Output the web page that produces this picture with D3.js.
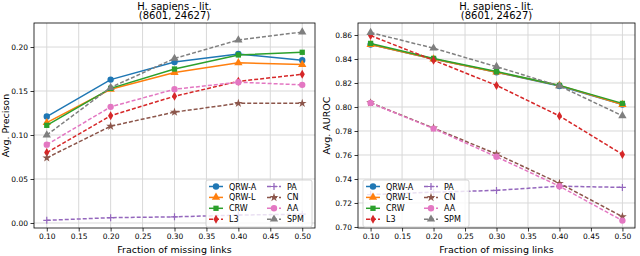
<!DOCTYPE html>
<html><head><meta charset="utf-8">
<script src="https://cdn.jsdelivr.net/npm/d3@7"></script>
<style>body{margin:0;background:#fff}svg{display:block}text{font-family:"DejaVu Sans",sans-serif;fill:#000}</style>
</head><body>
<svg id="c" width="640" height="256"></svg>
<script>
const xs = [0.1, 0.2, 0.3, 0.4, 0.5];
const xTicks = [0.10,0.15,0.20,0.25,0.30,0.35,0.40,0.45,0.50];
const methods = ["QRW-A","QRW-L","CRW","L3","PA","CN","AA","SPM"];
const colors = ["#1f77b4","#ff7f0e","#2ca02c","#d62728","#9467bd","#8c564b","#e377c2","#7f7f7f"];
const shapes = ["circle","triangle","square","diamond","plus","star","circle","triangle"];
const dashed = [false,false,false,true,true,true,true,true];

const precQRWA = [0.121,0.163,0.183,0.192,0.185];
const precQRWL = [0.114,0.152,0.171,0.182,0.180];
const precCRW  = [0.111,0.153,0.175,0.191,0.194];
const precL3   = [0.080,0.122,0.144,0.161,0.169];
const precPA   = [0.003,0.006,0.007,0.009,0.010];
const precCN   = [0.074,0.110,0.126,0.136,0.136];
const precAA   = [0.089,0.132,0.152,0.160,0.157];
const precSPM  = [0.100,0.154,0.187,0.208,0.217];

const aucQRWA = [0.852,0.840,0.829,0.8175,0.802];
const aucQRWL = [0.852,0.840,0.829,0.818,0.802];
const aucCRW  = [0.853,0.8405,0.8295,0.818,0.803];
const aucL3   = [0.8595,0.839,0.818,0.7925,0.7605];
const aucPA   = [0.727,0.729,0.7305,0.734,0.733];
const aucCN   = [0.8035,0.7825,0.7608,0.7364,0.7086];
const aucAA   = [0.8033,0.782,0.7585,0.734,0.7053];
const aucSPM  = [0.862,0.849,0.8336,0.8175,0.7927];

const precTicks = [0.00,0.05,0.10,0.15,0.20];
const aucTicks = [0.70,0.72,0.74,0.76,0.78,0.80,0.82,0.84,0.86];

const svg = d3.select("#c");

function symbolPath(shape, size){
  const map = {circle:d3.symbolCircle, triangle:d3.symbolTriangle, square:d3.symbolSquare,
    diamond:d3.symbolDiamond2, plus:d3.symbolCross, star:d3.symbolStar};
  return d3.symbol().type(map[shape]).size(size)();
}

function drawMarker(g, shape, color, x, y){
  if (shape === "plus") {
    g.append("path").attr("transform",`translate(${x},${y})`).attr("d","M-3.5,0H3.5M0,-3.5V3.5")
      .attr("stroke",color).attr("stroke-width",1.2).attr("fill","none");
  } else if (shape === "diamond") {
    g.append("path").attr("transform",`translate(${x},${y})`).attr("d","M0,-4.5L2.6,0L0,4.5L-2.6,0Z")
      .attr("fill",color);
  } else {
    const size = shape==="square"?28: shape==="triangle"?30: shape==="star"?24: 32;
    g.append("path").attr("transform",`translate(${x},${y})`).attr("d",symbolPath(shape,size))
      .attr("fill",color);
  }
}

function panel(opt){
  const {left,right,top,bottom,ydom,yticks,series,ylabel,legX} = opt;
  const x = d3.scaleLinear().domain([0.08,0.52]).range([left,right]);
  const y = d3.scaleLinear().domain(ydom).range([bottom,top]);
  const g = svg.append("g");
  g.append("g").selectAll("line").data(xTicks).join("line")
    .attr("x1",d=>x(d)).attr("x2",d=>x(d)).attr("y1",top).attr("y2",bottom)
    .attr("stroke","#d9d9d9").attr("stroke-width",1);
  g.append("g").selectAll("line").data(yticks).join("line")
    .attr("x1",left).attr("x2",right).attr("y1",d=>y(d)).attr("y2",d=>y(d))
    .attr("stroke","#d9d9d9").attr("stroke-width",1);
  const line = d3.line().x((d,i)=>x(xs[i])).y(d=>y(d));
  series.forEach((s,k)=>{
    g.append("path").datum(s).attr("d",line).attr("fill","none")
      .attr("stroke",colors[k]).attr("stroke-width",1.5)
      .attr("stroke-dasharray",dashed[k]?"4,2":null);
    s.forEach((v,i)=>drawMarker(g,shapes[k],colors[k],x(xs[i]),y(v)));
  });
  const ax = g.append("g").attr("transform",`translate(0,${bottom})`)
    .call(d3.axisBottom(x).tickValues(xTicks).tickFormat(d3.format(".2f")).tickSize(3.5).tickPadding(2.5));
  const ay = g.append("g").attr("transform",`translate(${left},0)`)
    .call(d3.axisLeft(y).tickValues(yticks).tickFormat(d3.format(".2f")).tickSize(3.5).tickPadding(2.5));
  [ax,ay].forEach(a=>{
    a.select(".domain").remove();
    a.selectAll("text").attr("font-size",7.5).attr("font-family","DejaVu Sans").attr("fill","#000");
    a.selectAll("line").attr("stroke","#000").attr("stroke-width",0.8);
  });
  g.append("rect").attr("x",left).attr("y",top).attr("width",right-left).attr("height",bottom-top)
    .attr("fill","none").attr("stroke","#000").attr("stroke-width",0.8);
  const cx = (left+right)/2;
  g.append("text").attr("x",cx).attr("y",9.5).attr("text-anchor","middle").attr("font-size",10).text("H. sapiens - lit.");
  g.append("text").attr("x",cx).attr("y",19).attr("text-anchor","middle").attr("font-size",10).text("(8601, 24627)");
  g.append("text").attr("x",cx).attr("y",252.5).attr("text-anchor","middle").attr("font-size",9.5).text("Fraction of missing links");
  g.append("text").attr("transform",`translate(${opt.ylabX},${(top+bottom)/2}) rotate(-90)`)
    .attr("text-anchor","middle").attr("font-size",9.5).text(ylabel);
  const lg = g.append("g");
  lg.append("rect").attr("x",legX).attr("y",180).attr("width",106).attr("height",47)
    .attr("rx",2).attr("fill","#fff").attr("fill-opacity",0.8).attr("stroke","#ccc").attr("stroke-width",0.8);
  methods.forEach((m,k)=>{
    const col = Math.floor(k/4), row = k%4;
    const hx = legX + 3 + col*58, hy = 186.5 + row*10.9;
    lg.append("line").attr("x1",hx).attr("x2",hx+14).attr("y1",hy).attr("y2",hy)
      .attr("stroke",colors[k]).attr("stroke-width",1.5).attr("stroke-dasharray",dashed[k]?"4,2":null);
    drawMarker(lg,shapes[k],colors[k],hx+7,hy);
    lg.append("text").attr("x",hx+20).attr("y",hy+3).attr("font-size",8).text(m);
  });
}

panel({left:34,right:315,top:23,bottom:228,ydom:[-0.0057,0.2273],yticks:precTicks,
  series:[precQRWA,precQRWL,precCRW,precL3,precPA,precCN,precAA,precSPM],ylabel:"Avg. Precison",legX:206,ylabX:9});
panel({left:358,right:635,top:23,bottom:228,ydom:[0.69915,0.87],yticks:aucTicks,
  series:[aucQRWA,aucQRWL,aucCRW,aucL3,aucPA,aucCN,aucAA,aucSPM],ylabel:"Avg. AUROC",legX:363,ylabX:330});
</script>
</body></html>
